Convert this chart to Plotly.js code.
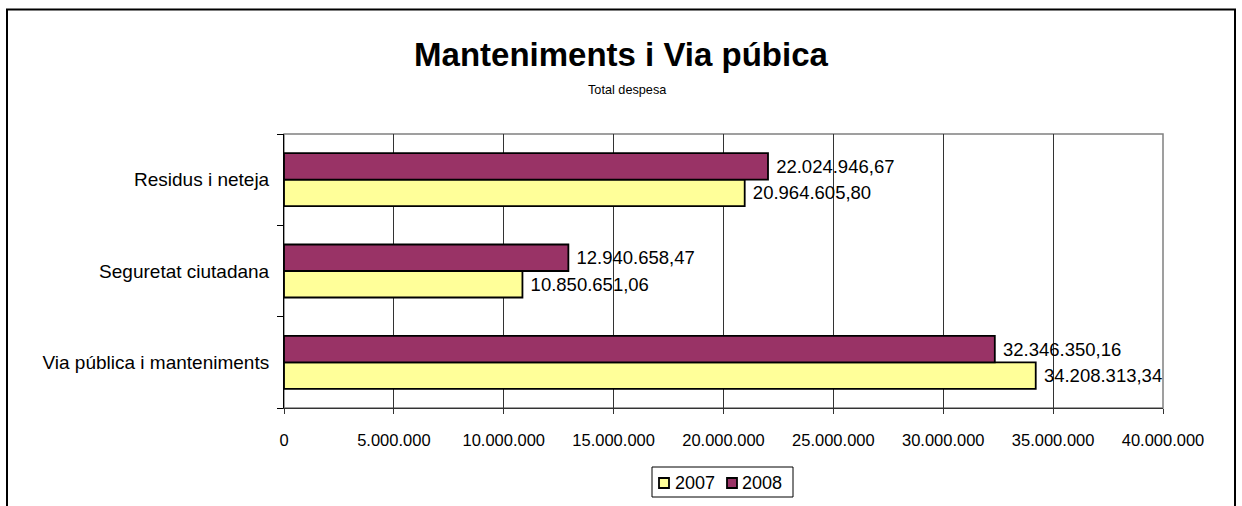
<!DOCTYPE html>
<html>
<head>
<meta charset="utf-8">
<script src="https://cdn.plot.ly/plotly-3.0.1.min.js"></script>
<style>
html,body{margin:0;padding:0;background:#fff;}
#chart{width:1242px;height:506px;}
</style>
</head>
<body>
<div id="chart"></div>
<script>
const categories = ["Via pública i manteniments", "Seguretat ciutadana", "Residus i neteja"];
const values2007 = [34208313.34, 10850651.06, 20964605.80];
const values2008 = [32346350.16, 12940658.47, 22024946.67];
const seriesNames = ["2007", "2008"];
const seriesColors = ["#FFFF99", "#993366"];
const xTickValues = [0, 5000000, 10000000, 15000000, 20000000, 25000000, 30000000, 35000000, 40000000];

const FONT = "Arial, 'Liberation Sans', sans-serif";
const L = 284, R = 1163, T = 134, B = 408, W = 1242, H = 506;
const pw = R - L, ph = B - T;
const px = v => (v - L) / pw;
const py = v => (B - v) / ph;

const common = {
  type: "bar",
  orientation: "h",
  y: categories,
  textposition: "outside",
  texttemplate: " %{x:,.2f}",
  textfont: {family: FONT, size: 18.5, color: "#000"},
  cliponaxis: false,
  constraintext: "none",
  hoverinfo: "skip",
  showlegend: false
};

const seriesValues = [values2007, values2008];
const traces = seriesNames.map((n, i) => Object.assign({}, common, {
  name: n,
  x: seriesValues[i],
  marker: {color: seriesColors[i], line: {color: "#000", width: 1.8}}
}));

// custom legend (box, swatches, labels)
const legendShapes = [
  {type: "rect", xref: "paper", yref: "paper",
   x0: px(652), x1: px(793), y0: py(497), y1: py(467),
   line: {color: "#000", width: 1}, fillcolor: "#fff", layer: "above"},
  {type: "rect", xref: "paper", yref: "paper",
   x0: px(659), x1: px(669), y0: py(488), y1: py(478),
   line: {color: "#000", width: 1.8}, fillcolor: seriesColors[0], layer: "above"},
  {type: "rect", xref: "paper", yref: "paper",
   x0: px(727), x1: px(737), y0: py(488), y1: py(478),
   line: {color: "#000", width: 1.8}, fillcolor: seriesColors[1], layer: "above"}
];
const legendLabels = [
  {text: seriesNames[0], x: px(673), y: py(483)},
  {text: seriesNames[1], x: px(740), y: py(483)}
].map(a => Object.assign(a, {
  xref: "paper", yref: "paper", xanchor: "left", yanchor: "middle",
  showarrow: false, font: {family: FONT, size: 18, color: "#000"}
}));

const layout = {
  width: W, height: H,
  margin: {l: L, r: W - R, t: T, b: H - B, pad: 0},
  paper_bgcolor: "#fff",
  plot_bgcolor: "#fff",
  separators: ",.",
  font: {family: FONT, color: "#000"},
  barmode: "group",
  bargap: 0.42,
  bargroupgap: 0,
  showlegend: false,
  title: {
    text: "<b>Manteniments i Via púbica</b>",
    font: {family: FONT, size: 33, color: "#000"},
    x: 0.5, xref: "container", xanchor: "center",
    y: 1 - 54 / H, yref: "container", yanchor: "middle"
  },
  xaxis: {
    range: [0, 40000000],
    tickmode: "array",
    tickvals: xTickValues,
    tickformat: ",.0f",
    showgrid: true,
    gridcolor: "#333",
    gridwidth: 1,
    zeroline: false,
    showline: true,
    linecolor: "#333",
    linewidth: 1,
    ticks: "outside",
    ticklen: 5,
    tickcolor: "#333",
    ticklabelstandoff: 12,
    tickfont: {family: FONT, size: 16.5, color: "#000"},
    fixedrange: true
  },
  yaxis: {
    type: "category",
    categoryorder: "array",
    categoryarray: categories,
    showgrid: false,
    zeroline: false,
    showline: true,
    linecolor: "#000",
    linewidth: 1,
    ticks: "outside",
    tickson: "boundaries",
    ticklen: 6,
    tickcolor: "#000",
    ticklabelstandoff: 10,
    tickfont: {family: FONT, size: 19, color: "#000"},
    fixedrange: true
  },
  annotations: [{
    text: "Total despesa",
    xref: "paper", yref: "paper",
    x: px(627), y: py(90),
    xanchor: "center", yanchor: "middle",
    showarrow: false,
    font: {family: FONT, size: 12.7, color: "#000"}
  }].concat(legendLabels),
  shapes: [
    {
      type: "rect", xref: "paper", yref: "paper",
      x0: 0, x1: 1, y0: 0, y1: 1,
      line: {color: "#808080", width: 1.5},
      layer: "below"
    },
    {
      type: "rect", xref: "paper", yref: "paper",
      x0: px(7), x1: px(1235), y0: py(560), y1: py(9.5),
      line: {color: "#000", width: 2},
      fillcolor: "rgba(0,0,0,0)",
      layer: "above"
    }
  ].concat(legendShapes)
};

Plotly.newPlot("chart", traces, layout, {displayModeBar: false, staticPlot: true});
</script>
</body>
</html>
